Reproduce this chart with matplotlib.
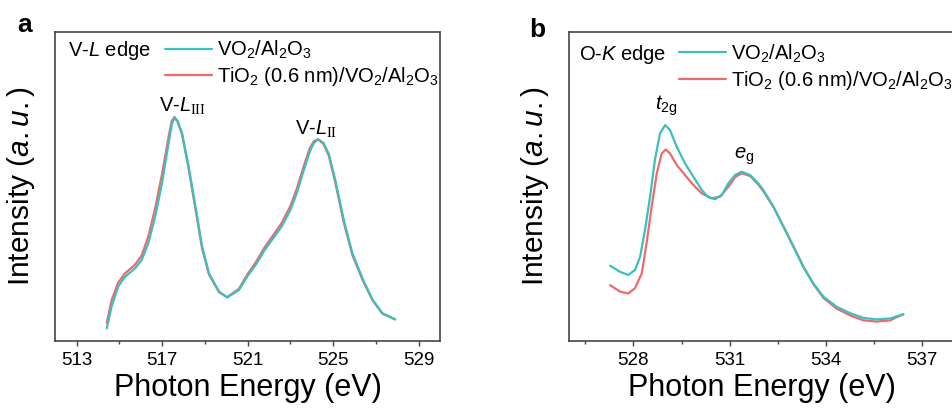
import numpy as np
import matplotlib
matplotlib.use('Agg')
import matplotlib.pyplot as plt

plt.rcParams['font.family'] = ['Liberation Sans', 'DejaVu Sans']
plt.rcParams['mathtext.fontset'] = 'custom'
plt.rcParams['mathtext.rm'] = 'Liberation Sans'
plt.rcParams['mathtext.it'] = 'Liberation Sans:italic'
plt.rcParams['mathtext.cal'] = 'Liberation Serif'

CYAN = '#3bbfbf'
RED = '#ef6a6a'

# V L-edge spectra (normalised intensity)
energy_vl = [514.41, 514.63, 514.94, 515.26, 515.73, 516.04, 516.35, 516.67,
             516.99, 517.30, 517.45, 517.58, 517.72, 517.93, 518.24, 518.56,
             518.87, 519.19, 519.66, 520.04, 520.59, 521.00, 521.40, 521.80,
             522.20, 522.60, 523.00, 523.30, 523.60, 523.90, 524.10, 524.30,
             524.55, 524.80, 525.10, 525.50, 525.90, 526.40, 526.85, 527.30,
             527.90]
vo2_vl = [0.040, 0.110, 0.175, 0.207, 0.234, 0.261, 0.315, 0.401,
          0.509, 0.639, 0.700, 0.722, 0.712, 0.671, 0.563, 0.434,
          0.304, 0.218, 0.159, 0.140, 0.164, 0.210, 0.248, 0.294,
          0.332, 0.371, 0.423, 0.478, 0.546, 0.611, 0.640, 0.652,
          0.640, 0.604, 0.520, 0.390, 0.283, 0.197, 0.132, 0.089,
          0.069]
tio2_vl = [0.058, 0.130, 0.188, 0.218, 0.246, 0.276, 0.337, 0.428,
           0.538, 0.660, 0.712, 0.724, 0.708, 0.668, 0.556, 0.425,
           0.298, 0.214, 0.157, 0.141, 0.168, 0.216, 0.256, 0.303,
           0.342, 0.382, 0.436, 0.492, 0.560, 0.622, 0.646, 0.652,
           0.636, 0.598, 0.512, 0.382, 0.277, 0.193, 0.130, 0.088,
           0.069]

# O K-edge spectra
energy_ok_vo2 = [527.27, 527.58, 527.84, 528.05, 528.21, 528.36, 528.52, 528.67,
                 528.83, 528.99, 529.14, 529.35, 529.61, 529.87, 530.13, 530.34,
                 530.55, 530.76, 530.96, 531.17, 531.38, 531.64, 531.90, 532.05,
                 532.37, 532.68, 532.99, 533.30, 533.61, 533.93, 534.34, 534.76,
                 535.17, 535.59, 536.01, 536.42]
vo2_ok = [0.243, 0.223, 0.213, 0.229, 0.272, 0.358, 0.466, 0.585,
          0.671, 0.698, 0.682, 0.628, 0.574, 0.531, 0.488, 0.464,
          0.458, 0.472, 0.509, 0.536, 0.547, 0.536, 0.509, 0.488,
          0.434, 0.369, 0.304, 0.239, 0.186, 0.142, 0.110, 0.089,
          0.074, 0.069, 0.072, 0.086]
energy_ok_tio2 = [527.27, 527.58, 527.84, 528.05, 528.26, 528.41, 528.57, 528.73,
                  528.88, 529.01, 529.14, 529.35, 529.61, 529.87, 530.13, 530.44,
                  530.70, 530.96, 531.17, 531.38, 531.64, 531.90, 532.05, 532.37,
                  532.68, 532.99, 533.30, 533.61, 533.93, 534.34, 534.76, 535.17,
                  535.59, 536.01, 536.42]
tio2_ok = [0.180, 0.159, 0.153, 0.170, 0.218, 0.315, 0.434, 0.542,
           0.606, 0.619, 0.606, 0.569, 0.536, 0.504, 0.477, 0.461,
           0.466, 0.498, 0.529, 0.542, 0.533, 0.505, 0.484, 0.432,
           0.370, 0.306, 0.240, 0.184, 0.138, 0.104, 0.082, 0.066,
           0.062, 0.066, 0.086]

labels = [r'VO$_2$/Al$_2$O$_3$', r'TiO$_2$ (0.6 nm)/VO$_2$/Al$_2$O$_3$']


def style_axes(ax, xlim, major, minor):
    ax.set_xlim(xlim)
    ax.set_ylim(0, 1)
    ax.set_xticks(major)
    ax.set_xticks(minor, minor=True)
    ax.set_yticks([])
    for s in ax.spines.values():
        s.set_color('#454545')
        s.set_linewidth(1.2)
    ax.tick_params(axis='x', which='major', direction='out', length=3.5,
                   width=1.0, color='#454545', labelsize=13.5, pad=4.5)
    ax.tick_params(axis='x', which='minor', direction='out', length=2.2,
                   width=1.0, color='#454545')
    ax.set_xlabel('Photon Energy (eV)', fontsize=22, labelpad=3)
    ax.set_ylabel(r'Intensity ($\it{a.u.}$)', fontsize=21.5, labelpad=13)


def add_legend(ax, y):
    h, l = ax.get_legend_handles_labels()
    ax.legend(h[::-1], l[::-1], loc='upper left', bbox_to_anchor=(0.285, y),
              frameon=False, fontsize=14.5, handlelength=2.35, handletextpad=0.23,
              labelspacing=0.2, borderpad=0, borderaxespad=0)


line_kw = dict(lw=1.6, solid_joinstyle='round', solid_capstyle='round')

fig = plt.figure(figsize=(9.52, 4.11), dpi=100)
ax_a = fig.add_axes([0.0581, 0.171, 0.4041, 0.7518])
ax_b = fig.add_axes([0.598, 0.171, 0.4041, 0.7518])

# panel a
ax_a.plot(energy_vl, tio2_vl, color=RED, label=labels[1], zorder=2, **line_kw)
ax_a.plot(energy_vl, vo2_vl, color=CYAN, label=labels[0], zorder=3, **line_kw)
style_axes(ax_a, (512, 530), [513, 517, 521, 525, 529], [515, 519, 523, 527])
ax_a.text(517.96, 0.741, r'V-$L_{\mathcal{III}}$', fontsize=14.5, ha='center', va='baseline')
ax_a.text(524.2, 0.666, r'V-$L_{\mathcal{II}}$', fontsize=14.5, ha='center', va='baseline')
ax_a.text(0.033, 0.939, r'V-$L$ edge', fontsize=14.5, transform=ax_a.transAxes, va='center')
add_legend(ax_a, 0.977)

# panel b
ax_b.plot(energy_ok_tio2, tio2_ok, color=RED, label=labels[1], zorder=2, **line_kw)
ax_b.plot(energy_ok_vo2, vo2_ok, color=CYAN, label=labels[0], zorder=3, **line_kw)
style_axes(ax_b, (526, 538), [528, 531, 534, 537], [526.5, 529.5, 532.5, 535.5])
ax_b.text(529.02, 0.747, r'$t_{\rm 2g}$', fontsize=14.5, ha='center', va='baseline')
ax_b.text(531.45, 0.588, r'$e_{\rm g}$', fontsize=14.5, ha='center', va='baseline')
ax_b.text(0.025, 0.926, r'O-$K$ edge', fontsize=14.5, transform=ax_b.transAxes, va='center')
add_legend(ax_b, 0.966)

fig.text(0.018, 0.922, 'a', fontsize=19, fontweight='bold')
fig.text(0.556, 0.911, 'b', fontsize=19, fontweight='bold')

fig.savefig('out.png', dpi=100)
